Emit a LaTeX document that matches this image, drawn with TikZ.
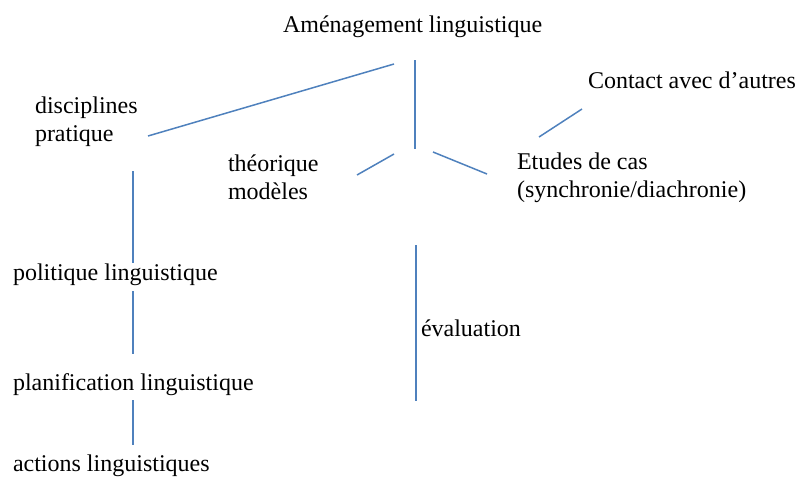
\documentclass[tikz,border=0pt]{standalone}
\usepackage{fontspec}
\setmainfont{Liberation Serif}
\definecolor{linkblue}{HTML}{4F81BD}
\begin{document}
\begin{tikzpicture}[x=1pt,y=-1pt,
  lbl/.style={anchor=base west,inner sep=0pt,outer sep=0pt,align=left,
    font=\fontsize{24}{28}\selectfont},
  link/.style={draw=linkblue,line width=1.5pt}]
\useasboundingbox (0,0) rectangle (799,477);
% texts (multi-line nodes are placed by the baseline of their last line)
\node[lbl] (amen) at (283,32) {Aménagement linguistique};
\node[lbl] (disc) at (35,141) {disciplines\\pratique};
\node[lbl] (cont) at (588,88) {Contact avec d’autres};
\node[lbl] (theo) at (228,199) {théorique\\modèles};
\node[lbl] (etud) at (517,197) {Etudes de cas\\(synchronie/diachronie)};
\node[lbl] (poli) at (13,280) {politique linguistique};
\node[lbl] (eval) at (421,336) {évaluation};
\node[lbl] (plan) at (13,390) {planification linguistique};
\node[lbl] (acti) at (13,471) {actions linguistiques};
% connector ends
\coordinate (a1) at (148,136); \coordinate (a2) at (394,64);
\coordinate (b1) at (415,60);  \coordinate (b2) at (415,149);
\coordinate (c1) at (357,175); \coordinate (c2) at (394,154);
\coordinate (d1) at (433,152); \coordinate (d2) at (487,174);
\coordinate (e1) at (539,137); \coordinate (e2) at (582,109);
\coordinate (f1) at (133,171); \coordinate (f2) at (133,263);
\coordinate (g1) at (133,291); \coordinate (g2) at (133,354);
\coordinate (h1) at (133,400); \coordinate (h2) at (133,445);
\coordinate (i1) at (416,245); \coordinate (i2) at (416,401);
\draw[link] (a1) -- (a2);
\draw[link] (b1) -- (b2);
\draw[link] (c1) -- (c2);
\draw[link] (d1) -- (d2);
\draw[link] (e1) -- (e2);
\draw[link] (f1) -- (f2);
\draw[link] (g1) -- (g2);
\draw[link] (h1) -- (h2);
\draw[link] (i1) -- (i2);
\end{tikzpicture}
\end{document}
